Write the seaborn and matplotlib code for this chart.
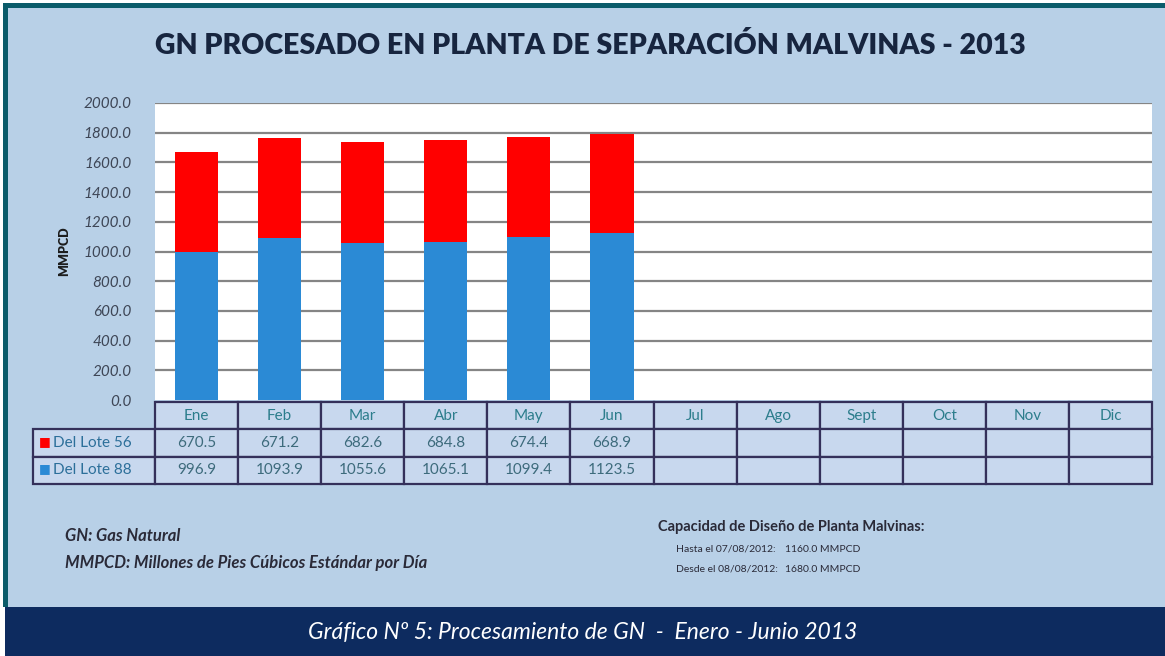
import matplotlib
matplotlib.use("Agg")
import matplotlib.pyplot as plt
from matplotlib.patches import Rectangle
import seaborn as sns

months = ["Ene", "Feb", "Mar", "Abr", "May", "Jun", "Jul", "Ago", "Sept", "Oct", "Nov", "Dic"]
months_done = ["Ene", "Feb", "Mar", "Abr", "May", "Jun"]
lote56 = [670.5, 671.2, 682.6, 684.8, 674.4, 668.9]
lote88 = [996.9, 1093.9, 1055.6, 1065.1, 1099.4, 1123.5]
yticks = [0, 200, 400, 600, 800, 1000, 1200, 1400, 1600, 1800, 2000]

RED = "#ff0000"
BLUE = "#2b8ad5"
BG = "#b8d0e7"
CELL = "#c8d8ee"
EDGE = "#34305a"
TEAL_TXT = "#2c7d8c"
NAVY = "#0d2b5f"

sns.set_style("white")
plt.rcParams["font.family"] = ["Lato", "DejaVu Sans"]

fig = plt.figure(figsize=(11.65, 6.56), dpi=100)
fig.patch.set_facecolor("white")
W, H = 1165, 656


def fx(px):
    return px / W


def fy(py):
    return 1 - py / H


# background panel with teal frame on top and left
fig.patches.append(Rectangle((fx(5), fy(607)), fx(1160), 602 / H, transform=fig.transFigure,
                             facecolor=BG, edgecolor="none", zorder=-3))
fig.patches.append(Rectangle((fx(3), fy(8)), fx(1162), 5 / H, transform=fig.transFigure,
                             facecolor="#0b5c6a", edgecolor="none", zorder=-2))
fig.patches.append(Rectangle((fx(3), fy(607)), fx(5), 602 / H, transform=fig.transFigure,
                             facecolor="#0b5c6a", edgecolor="none", zorder=-2))
# bottom caption band
fig.patches.append(Rectangle((fx(5), 0), fx(1160), 49 / H, transform=fig.transFigure,
                             facecolor=NAVY, edgecolor="none", zorder=-2))

ax = fig.add_axes([fx(155), fy(400), fx(997), 297 / H])
ax.set_zorder(2)
ax.set_facecolor("white")

totals = [a + b for a, b in zip(lote56, lote88)]
sns.barplot(x=months_done, y=totals, order=months, color=RED, saturation=1,
            width=0.52, errorbar=None, linewidth=0, ax=ax, zorder=3)
sns.barplot(x=months_done, y=lote88, order=months, color=BLUE, saturation=1,
            width=0.52, errorbar=None, linewidth=0, ax=ax, zorder=4)

ax.set_xlim(-0.5, 11.5)
ax.set_ylim(0, 2000)
ax.set_yticks(yticks)
ax.set_yticklabels([f"{v:.1f}" for v in yticks], fontstyle="italic", fontsize=11, color="#3e4656")
ax.tick_params(axis="y", length=0, pad=17)
ax.set_xticks([])
ax.set_xlabel("")
for v in yticks[1:]:
    ax.axhline(v, color="#858585", linewidth=1.6, zorder=1)
for s in ax.spines.values():
    s.set_visible(False)
ax.set_ylabel("MMPCD", fontsize=9, fontweight="heavy", color="#1c1c1c")
ax.yaxis.set_label_coords(-0.085, 0.5)

# data table under the chart
rows = [[""] + months,
        ["Del Lote 56"] + [f"{v:.1f}" for v in lote56] + [""] * 6,
        ["Del Lote 88"] + [f"{v:.1f}" for v in lote88] + [""] * 6]
lab_w = 122 / 997
col_w = [lab_w] + [1 / 12] * 12
tbl = ax.table(cellText=rows, colWidths=col_w, cellLoc="center",
               bbox=[-lab_w, -84 / 297, 1 + lab_w, 82 / 297])
tbl.auto_set_font_size(False)
for (r, c), cell in tbl.get_celld().items():
    cell.set_edgecolor(EDGE)
    cell.set_linewidth(1.6)
    cell.set_facecolor(CELL)
    txt = cell.get_text()
    txt.set_fontsize(11)
    txt.set_color(TEAL_TXT if r == 0 else "#3d6b7c")
    if r == 0 and c == 0:
        cell.set_facecolor("none")
        cell.visible_edges = ""
    if c == 0 and r > 0:
        txt.set_ha("left")
        cell.PAD = 0.16
        txt.set_color("#2c6f9a")

# legend keys inside the row label cells
fig.text(fx(39), fy(442), "■", color=RED, fontsize=9, va="center", ha="left",
         family="DejaVu Sans", zorder=5)
fig.text(fx(39), fy(469), "■", color=BLUE, fontsize=9, va="center", ha="left",
         family="DejaVu Sans", zorder=5)

fig.text(fx(590), fy(45), "GN PROCESADO EN PLANTA DE SEPARACIÓN MALVINAS - 2013",
         ha="center", va="center", fontsize=20.5, fontweight="heavy", color="#17253f")

fig.text(fx(65), fy(536), "GN: Gas Natural", fontsize=12, fontstyle="italic",
         fontweight="bold", color="#2a2a38", va="center")
fig.text(fx(65), fy(563), "MMPCD: Millones de Pies Cúbicos Estándar por Día", fontsize=12,
         fontstyle="italic", fontweight="bold", color="#2a2a38", va="center")

fig.text(fx(658), fy(527), "Capacidad de Diseño de Planta Malvinas:", fontsize=10.5,
         fontweight="bold", color="#2a2a38", va="center")
fig.text(fx(676), fy(549), "Hasta el 07/08/2012:", fontsize=7.5, color="#2a2a38", va="center")
fig.text(fx(785), fy(549), "1160.0 MMPCD", fontsize=7.5, color="#2a2a38", va="center")
fig.text(fx(676), fy(569), "Desde el 08/08/2012:", fontsize=7.5, color="#2a2a38", va="center")
fig.text(fx(785), fy(569), "1680.0 MMPCD", fontsize=7.5, color="#2a2a38", va="center")

fig.text(fx(583), fy(633), "Gráfico Nº 5: Procesamiento de GN  -  Enero - Junio 2013",
         ha="center", va="center", fontsize=16.5, fontstyle="italic", color="white")

fig.savefig("out.png", dpi=100, facecolor=fig.get_facecolor())
